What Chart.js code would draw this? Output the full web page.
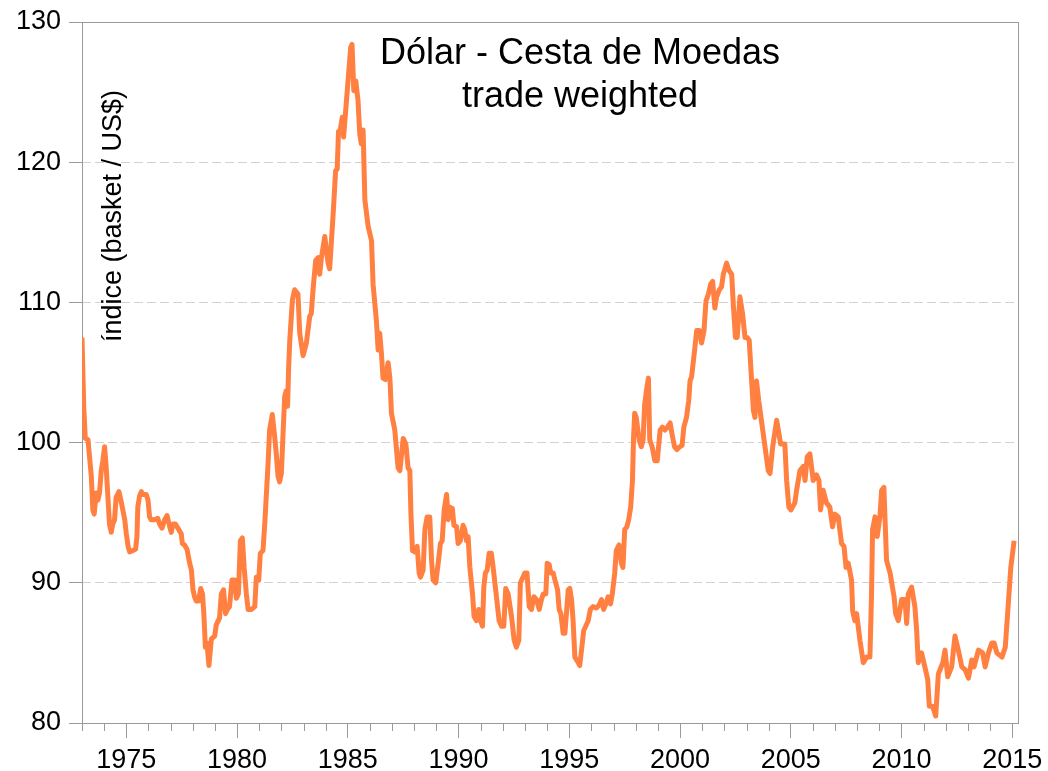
<!DOCTYPE html>
<html><head><meta charset="utf-8">
<script src="https://cdn.jsdelivr.net/npm/chart.js@4/dist/chart.umd.min.js"></script>
<style>html,body{margin:0;padding:0;background:#fff}#wrap{width:1048px;height:771px}</style>
</head><body><div id="wrap"><canvas id="c" width="1048" height="771"></canvas></div>
<script>
// decimal years of the read points
const dates = [
1973.00,1973.08,1973.15,1973.27,1973.34,1973.42,1973.49,1973.55,1973.64,1973.72,1973.79,1973.87,1973.94,
1974.02,1974.09,1974.17,1974.24,1974.32,1974.39,1974.47,1974.54,1974.67,1974.78,1974.93,
1975.00,1975.08,1975.15,1975.30,1975.42,1975.48,1975.52,1975.60,1975.68,1975.75,1975.90,1975.98,
1976.05,1976.12,1976.27,1976.42,1976.50,1976.61,1976.73,1976.84,1976.96,
1977.03,1977.11,1977.21,1977.33,1977.48,1977.53,1977.63,1977.74,1977.86,1977.94,
1978.01,1978.08,1978.16,1978.26,1978.36,1978.44,1978.50,1978.57,1978.64,1978.73,1978.84,1978.99,
1979.06,1979.21,1979.29,1979.39,1979.48,1979.56,1979.66,1979.77,1979.89,1979.97,
1980.06,1980.15,1980.24,1980.32,1980.42,1980.50,1980.65,1980.80,1980.87,1980.98,
1981.05,1981.17,1981.25,1981.40,1981.47,1981.59,1981.70,1981.77,1981.85,1981.92,
1982.00,1982.07,1982.15,1982.22,1982.28,1982.33,1982.38,1982.50,1982.60,1982.75,1982.83,1982.98,
1983.13,1983.28,1983.35,1983.43,1983.55,1983.66,1983.73,1983.81,1983.96,
1984.11,1984.18,1984.33,1984.45,1984.52,1984.58,1984.66,1984.75,1984.81,1984.94,
1985.06,1985.13,1985.19,1985.27,1985.36,1985.46,1985.54,1985.61,1985.69,1985.77,1985.92,
1986.07,1986.14,1986.29,1986.37,1986.44,1986.52,1986.59,1986.70,1986.82,1986.90,1986.97,
1987.12,1987.27,1987.35,1987.50,1987.62,1987.72,1987.80,1987.85,1987.92,
1988.02,1988.13,1988.22,1988.28,1988.40,1988.48,1988.58,1988.70,1988.78,1988.85,1988.97,
1989.08,1989.18,1989.26,1989.35,1989.46,1989.53,1989.60,1989.72,1989.79,1989.91,1989.98,
1990.08,1990.20,1990.28,1990.36,1990.43,1990.51,1990.63,1990.70,1990.81,1990.91,1990.99,
1991.08,1991.14,1991.21,1991.29,1991.38,1991.48,1991.56,1991.71,1991.83,1991.94,
1992.04,1992.13,1992.24,1992.39,1992.51,1992.61,1992.72,1992.79,1992.91,1992.99,
1993.09,1993.19,1993.29,1993.40,1993.52,1993.64,1993.74,1993.82,1993.94,
1994.00,1994.09,1994.16,1994.27,1994.35,1994.47,1994.54,1994.62,1994.72,1994.80,1994.87,1994.95,
1995.02,1995.10,1995.17,1995.25,1995.37,1995.47,1995.65,1995.74,1995.85,1995.95,
1996.07,1996.22,1996.34,1996.45,1996.55,1996.65,1996.75,1996.86,1996.94,
1997.05,1997.12,1997.24,1997.35,1997.42,1997.50,1997.60,1997.68,1997.77,1997.85,1997.90,1997.95,
1998.02,1998.15,1998.25,1998.33,1998.40,1998.48,1998.57,1998.63,1998.74,1998.86,1998.97,
1999.10,1999.20,1999.32,1999.43,1999.55,1999.65,1999.75,1999.86,1999.98,
2000.09,2000.17,2000.29,2000.39,2000.45,2000.52,2000.67,2000.75,2000.87,2000.97,
2001.08,2001.17,2001.28,2001.38,2001.47,2001.57,2001.65,2001.77,2001.87,2001.95,
2002.10,2002.20,2002.33,2002.40,2002.50,2002.58,2002.70,2002.82,2002.93,
2003.03,2003.12,2003.23,2003.31,2003.38,2003.45,2003.55,2003.73,2003.98,
2004.06,2004.18,2004.36,2004.54,2004.73,2004.81,2004.91,
2005.00,2005.18,2005.26,2005.41,2005.56,2005.64,2005.74,2005.86,
2006.01,2006.16,2006.27,2006.34,2006.46,2006.61,2006.76,2006.88,2006.99,
2007.14,2007.29,2007.40,2007.49,2007.59,2007.74,2007.79,2007.89,2007.97,
2008.12,2008.27,2008.42,2008.57,2008.64,2008.69,2008.80,2008.90,
2009.02,2009.10,2009.20,2009.32,2009.48,2009.66,2009.73,2009.85,
2010.00,2010.15,2010.23,2010.30,2010.45,2010.60,2010.68,2010.75,2010.90,
2011.05,2011.18,2011.25,2011.40,2011.54,2011.66,2011.86,2011.96,
2012.08,2012.26,2012.41,2012.56,2012.72,2012.87,
2013.02,2013.17,2013.27,2013.47,2013.66,2013.77,2013.92,
2014.07,2014.18,2014.30,2014.53,2014.68,2014.83,2014.93,
2015.08
];
// index values (basket / US$)
const indexValues = [
107.5,102.5,100.3,100.2,99.0,97.6,95.2,94.9,96.4,95.9,96.4,98.0,98.7,
99.7,98.3,96.1,94.2,93.6,94.2,94.5,96.1,96.5,95.7,94.5,
93.5,92.6,92.2,92.3,92.4,93.3,95.4,96.2,96.5,96.3,96.3,95.9,
94.7,94.5,94.5,94.6,94.2,93.9,94.5,94.8,94.0,
93.6,94.2,94.2,93.9,93.5,92.8,92.7,92.4,91.4,90.9,
89.5,89.0,88.7,88.7,89.6,89.2,87.8,85.4,85.7,84.1,86.0,86.2,
87.0,87.5,89.2,89.5,87.8,88.1,88.3,90.2,90.2,88.9,
89.2,93.0,93.2,91.1,89.2,88.1,88.1,88.3,90.4,90.2,
92.1,92.3,94.2,98.5,100.9,102.0,100.4,99.2,97.6,97.2,
97.8,100.4,103.3,103.7,102.6,105.4,107.3,110.2,110.9,110.6,107.8,106.2,
107.1,109.0,109.2,110.9,113.0,113.2,112.0,113.2,114.7,
112.8,112.4,116.1,119.4,119.5,122.2,122.3,123.2,121.8,124.4,
126.8,128.2,128.4,125.1,125.8,124.4,122.0,121.3,122.3,117.3,115.4,
114.4,111.3,108.7,106.6,107.8,106.3,104.6,104.5,105.7,104.6,102.1,
100.9,98.2,98.0,100.3,99.9,98.2,98.0,94.9,92.3,
92.2,92.6,90.7,90.4,90.9,93.8,94.7,94.7,91.6,90.2,90.0,
91.4,92.8,93.0,95.2,96.3,94.5,95.4,95.3,94.1,94.0,92.8,
93.0,94.1,93.8,93.0,93.3,91.1,89.2,87.6,87.3,88.1,87.3,
86.9,89.7,90.7,90.9,92.1,92.1,91.1,89.0,87.3,86.9,
86.9,89.6,89.2,87.6,85.9,85.4,85.9,90.0,90.4,90.7,
90.7,88.3,88.1,89.0,88.8,88.1,88.8,89.2,89.2,
91.4,91.3,90.7,90.7,90.2,89.5,88.1,87.8,86.4,86.4,87.8,89.5,
89.6,88.8,87.3,84.7,84.4,84.1,86.6,86.9,87.3,88.1,
88.3,88.2,88.4,88.8,88.1,88.5,89.0,88.5,89.2,
90.7,92.3,92.7,91.4,91.1,93.8,94.0,94.5,95.4,97.3,100.4,102.1,
101.8,100.2,99.7,100.2,102.7,103.7,104.6,100.2,99.7,98.7,98.7,
100.9,101.1,100.9,101.1,101.4,100.5,99.7,99.5,99.7,
99.8,101.1,101.8,103.0,104.4,104.7,106.8,108.0,108.0,107.1,
108.0,110.1,110.6,111.3,111.5,109.6,110.4,110.9,111.1,112.0,
112.8,112.3,112.0,109.9,107.5,107.5,110.4,109.2,107.5,
107.5,107.3,104.4,102.3,101.8,104.4,103.0,100.9,98.0,
97.8,99.7,101.6,99.9,99.9,97.3,95.4,
95.2,95.7,96.6,98.0,98.3,97.3,99.0,99.2,
97.3,97.7,97.3,95.2,96.6,95.7,95.4,94.0,94.9,
94.7,92.8,92.6,91.1,91.4,90.2,88.0,87.3,87.8,
85.9,84.3,84.7,84.7,89.0,93.8,94.7,93.3,
94.7,96.6,96.8,91.6,90.7,89.0,87.8,87.3,
88.8,88.8,87.1,89.2,89.7,88.3,86.6,84.3,85.0,
84.0,83.1,81.2,81.2,80.5,83.5,84.3,85.2,
83.3,84.0,86.2,85.2,84.0,83.8,
83.2,84.5,84.0,85.2,85.0,84.0,85.0,
85.7,85.7,85.0,84.7,85.4,88.8,91.1,
93.0
];
const yTickValues = [80, 90, 100, 110, 120, 130];
const xMajorYears = [1975, 1980, 1985, 1990, 1995, 2000, 2005, 2010, 2015];
const xMinorYears = [1973,1974,1976,1977,1978,1979,1981,1982,1983,1984,1986,1987,1988,1989,
  1991,1992,1993,1994,1996,1997,1998,1999,2001,2002,2003,2004,2006,2007,2008,2009,2011,2012,2013,2014];
const titleLines = ['Dólar - Cesta de Moedas', 'trade weighted'];
const yAxisTitle = 'índice (basket / US$)';

const FONT = '"Liberation Sans", Arial, Helvetica, sans-serif';

const decorPlugin = {
  id: 'decor',
  beforeDatasetsDraw(chart) {
    const {ctx, chartArea: a} = chart;
    ctx.save();
    ctx.strokeStyle = '#9a9a9a';
    ctx.lineWidth = 1;
    ctx.strokeRect(Math.round(a.left) + 0.5, Math.round(a.top) + 0.5,
      Math.round(a.right - a.left) - 1, Math.round(a.bottom - a.top));
    // minor year ticks
    const xs = chart.scales.x;
    ctx.beginPath();
    xMinorYears.forEach(yr => {
      const px = Math.round(xs.getPixelForValue(yr)) + 0.5;
      ctx.moveTo(px, a.bottom);
      ctx.lineTo(px, a.bottom + 8);
    });
    ctx.stroke();
    ctx.restore();
  },
  afterDraw(chart) {
    const {ctx} = chart;
    ctx.save();
    ctx.fillStyle = '#000';
    ctx.textAlign = 'center';
    ctx.textBaseline = 'alphabetic';
    ctx.font = '36px ' + FONT;
    ctx.fillText(titleLines[0], 580, 64);
    ctx.fillText(titleLines[1], 580, 107);
    ctx.translate(121, 216);
    ctx.rotate(-Math.PI / 2);
    ctx.font = '27px ' + FONT;
    ctx.fillText(yAxisTitle, 0, 0);
    ctx.restore();
  }
};

new Chart(document.getElementById('c'), {
  type: 'line',
  data: {
    datasets: [{
      data: dates.map((d, i) => ({x: d, y: indexValues[i]})),
      borderColor: '#ff8040',
      borderWidth: 5,
      pointRadius: 0,
      tension: 0,
      fill: false,
      borderJoinStyle: 'round'
    }]
  },
  options: {
    responsive: false,
    animation: false,
    events: [],
    layout: {padding: {left: 0, top: 22, right: 29, bottom: 0}},
    plugins: {legend: {display: false}, tooltip: {enabled: false}, title: {display: false}},
    scales: {
      x: {
        type: 'linear',
        min: 1973,
        max: 2015.3,
        afterBuildTicks: s => { s.ticks = xMajorYears.map(v => ({value: v})); },
        afterFit: s => { s.height = 48; s.paddingLeft = 0; s.paddingRight = 0; },
        grid: {drawOnChartArea: false, tickLength: 15, tickColor: '#9a9a9a', color: '#9a9a9a'},
        border: {display: false},
        ticks: {
          font: {family: FONT, size: 27}, color: '#000', padding: 6,
          maxRotation: 0, autoSkip: false, callback: v => String(v)
        }
      },
      y: {
        min: 80,
        max: 130,
        afterBuildTicks: s => { s.ticks = yTickValues.map(v => ({value: v})); },
        afterFit: s => { s.width = 82; s.paddingTop = 0; s.paddingBottom = 0; },
        grid: {
          color: c => (c.tick && (c.tick.value === 80 || c.tick.value === 130)) ? 'rgba(0,0,0,0)' : '#d2d2d2',
          tickColor: '#9a9a9a', tickLength: 13, lineWidth: 1
        },
        border: {display: false, dash: [9, 4]},
        ticks: {font: {family: FONT, size: 27}, color: '#000', padding: 8, callback: v => String(v)}
      }
    }
  },
  plugins: [decorPlugin]
});
</script>
</body></html>
